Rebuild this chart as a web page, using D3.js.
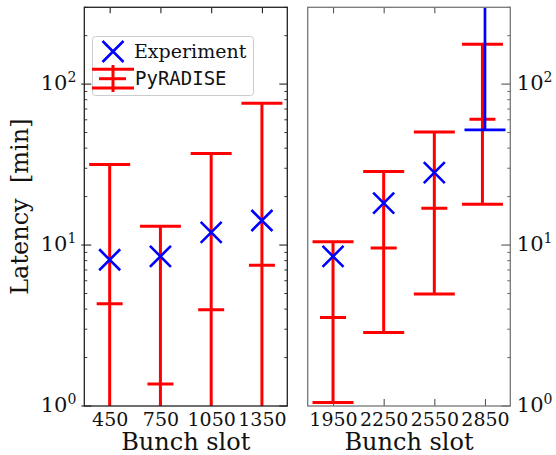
<!DOCTYPE html>
<html>
<head>
<meta charset="utf-8">
<script src="https://cdn.jsdelivr.net/npm/d3@7"></script>
<style>
  html, body { margin: 0; padding: 0; background: #fff; }
  svg { display: block; }
</style>
</head>
<body>
<svg id="chart" width="556" height="455"></svg>
<script>
// ---- data ----
const slotsLeft = [450, 750, 1050, 1350];
const slotsRight = [1950, 2250, 2550, 2850];
const experimentSlots = [450, 750, 1050, 1350, 1950, 2250, 2550];
const experimentValues = [8.1, 8.5, 12.0, 14.2, 8.5, 18.2, 28.2];
// experiment lower limit (error bar going off the top) at slot 2850
const expLimitSlots = [2850];
const expLimitLow = [52];
const expLimitHigh = [1000];
const pyradiseSlots = [450, 750, 1050, 1350, 1950, 2250, 2550, 2835];
const pyradiseLow = [0.5, 0.5, 0.5, 0.5, 1.05, 2.86, 4.97, 17.9];
const pyradiseMid = [4.32, 1.37, 3.96, 7.48, 3.55, 9.6, 16.9, 60.5];
const pyradiseHigh = [31.7, 13.1, 37.0, 76.0, 10.5, 28.6, 50.4, 177];
const yMajorTicks = [1, 10, 100];
const yMinorTicks = [2, 3, 4, 5, 6, 7, 8, 9, 20, 30, 40, 50, 60, 70, 80, 90, 200, 300];
const xLabel = "Bunch slot";
const yLabel = "Latency\u00a0\u00a0[min]";

const svg = d3.select("#chart");
const SERIF = "DejaVu Serif, serif";
const TOP = 7.3, BOTTOM = 406;
const y = d3.scaleLog().domain([1, 300]).range([BOTTOM, TOP]);

const panels = [
  { id: "L", slots: slotsLeft, x: d3.scaleLinear().domain([300, 1500]).range([84.3, 287.3]), spine: "#222", tick: "#222", yLabelsLeft: true },
  { id: "R", slots: slotsRight, x: d3.scaleLinear().domain([1800, 3000]).range([307.7, 510.3]), spine: "#777", tick: "#555", yLabelsLeft: false }
];

const defs = svg.append("defs");

panels.forEach(p => {
  const [x0, x1] = p.x.range();
  const [d0, d1] = p.x.domain();
  const g = svg.append("g");
  defs.append("clipPath").attr("id", "clip" + p.id)
    .append("rect").attr("x", x0).attr("y", TOP).attr("width", x1 - x0).attr("height", BOTTOM - TOP);

  const inRange = v => v >= d0 && v <= d1;

  // bottom axis (ticks inward, labels)
  const bottom = g.append("g").attr("transform", `translate(0,${BOTTOM})`)
    .call(d3.axisBottom(p.x).tickValues(p.slots).tickSize(-7).tickPadding(6).tickFormat(d3.format("d")));
  bottom.select(".domain").remove();
  bottom.selectAll(".tick line").attr("stroke", p.tick).attr("stroke-width", 1.1);
  bottom.selectAll(".tick text").attr("font-family", SERIF).attr("font-size", 19).attr("fill", "#111").attr("dy", "0.72em");

  // top axis ticks
  const top = g.append("g").attr("transform", `translate(0,${TOP})`)
    .call(d3.axisTop(p.x).tickValues(p.slots).tickSize(-6).tickFormat(""));
  top.select(".domain").remove();
  top.selectAll(".tick line").attr("stroke", p.tick).attr("stroke-width", 1.1);

  // y ticks
  const drawYTicks = (xPos, dir, major, minor, out) => {
    const t = g.append("g");
    t.selectAll("line.maj").data(yMajorTicks).join("line")
      .attr("x1", xPos - dir * out).attr("x2", xPos + dir * major)
      .attr("y1", d => y(d)).attr("y2", d => y(d))
      .attr("stroke", p.tick).attr("stroke-width", 1.1);
    t.selectAll("line.min").data(yMinorTicks).join("line")
      .attr("x1", xPos).attr("x2", xPos + dir * minor)
      .attr("y1", d => y(d)).attr("y2", d => y(d))
      .attr("stroke", p.tick).attr("stroke-width", 0.9);
  };
  if (p.yLabelsLeft) {
    drawYTicks(x0, 1, 7, 3, 3);
    drawYTicks(x1, -1, 8, 3, 0);
  } else {
    drawYTicks(x1, -1, 9, 3, 0);
  }

  // y tick labels
  const lab = g.append("g");
  yMajorTicks.forEach(v => {
    const e = Math.round(Math.log10(v));
    const t = lab.append("text")
      .attr("y", y(v)).attr("dy", "0.37em")
      .attr("font-family", SERIF).attr("fill", "#111");
    if (p.yLabelsLeft) {
      t.attr("x", x0 - 8).attr("text-anchor", "end");
    } else {
      t.attr("x", x1 + 6.5).attr("text-anchor", "start");
    }
    t.append("tspan").attr("font-size", 21).text("10");
    t.append("tspan").attr("font-size", 14).attr("dy", "-0.55em").text(String(e));
  });

  // data layer
  const data = g.append("g").attr("clip-path", `url(#clip${p.id})`);
  const pyIdx = pyradiseSlots.map((s, i) => i).filter(i => inRange(pyradiseSlots[i]));
  pyIdx.forEach(i => {
    const cx = p.x(pyradiseSlots[i]);
    const red = "#ff0000";
    data.append("line").attr("x1", cx).attr("x2", cx)
      .attr("y1", y(pyradiseLow[i])).attr("y2", y(pyradiseHigh[i]))
      .attr("stroke", red).attr("stroke-width", 3);
    [pyradiseLow[i], pyradiseHigh[i]].forEach(v => {
      data.append("line").attr("x1", cx - 20.5).attr("x2", cx + 20.5)
        .attr("y1", y(v)).attr("y2", y(v)).attr("stroke", red).attr("stroke-width", 3);
    });
    data.append("line").attr("x1", cx - 13).attr("x2", cx + 13)
      .attr("y1", y(pyradiseMid[i])).attr("y2", y(pyradiseMid[i]))
      .attr("stroke", red).attr("stroke-width", 3);
  });
  expLimitSlots.forEach((s, i) => {
    if (!inRange(s)) return;
    const cx = p.x(s);
    data.append("line").attr("x1", cx).attr("x2", cx)
      .attr("y1", y(expLimitLow[i])).attr("y2", y(expLimitHigh[i]))
      .attr("stroke", "#0000ff").attr("stroke-width", 2.7);
    data.append("line").attr("x1", cx - 20.5).attr("x2", cx + 20.5)
      .attr("y1", y(expLimitLow[i])).attr("y2", y(expLimitLow[i]))
      .attr("stroke", "#0000ff").attr("stroke-width", 2.7);
  });
  experimentSlots.forEach((s, i) => {
    if (!inRange(s)) return;
    const cx = p.x(s), cy = y(experimentValues[i]), r = 10.5;
    data.append("path")
      .attr("d", `M${cx - r},${cy - r}L${cx + r},${cy + r}M${cx - r},${cy + r}L${cx + r},${cy - r}`)
      .attr("stroke", "#0000ff").attr("stroke-width", 2.6).attr("fill", "none");
  });

  // spines
  g.append("rect").attr("x", x0).attr("y", TOP).attr("width", x1 - x0).attr("height", BOTTOM - TOP)
    .attr("fill", "none").attr("stroke", p.spine).attr("stroke-width", 1.3);

  // x label
  g.append("text").attr("x", (x0 + x1) / 2).attr("y", 449.5)
    .attr("text-anchor", "middle").attr("font-family", SERIF).attr("font-size", 24)
    .attr("fill", "#111").text(xLabel);
});

// y label
svg.append("text")
  .attr("transform", `translate(28,${(TOP + BOTTOM) / 2}) rotate(-90)`)
  .attr("text-anchor", "middle").attr("font-family", SERIF).attr("font-size", 24)
  .attr("fill", "#111").text(yLabel);

// legend
const lg = svg.append("g");
lg.append("rect").attr("x", 92.5).attr("y", 36.5).attr("width", 161).attr("height", 59)
  .attr("rx", 3).attr("fill", "rgba(255,255,255,0.85)").attr("stroke", "#cccccc").attr("stroke-width", 1);
const mx = 113, my = 51.5, mr = 10.5;
lg.append("path")
  .attr("d", `M${mx - mr},${my - mr}L${mx + mr},${my + mr}M${mx - mr},${my + mr}L${mx + mr},${my - mr}`)
  .attr("stroke", "#0000ff").attr("stroke-width", 2.6).attr("fill", "none");
lg.append("text").attr("x", 134).attr("y", 57.5).attr("font-family", SERIF).attr("font-size", 19)
  .attr("fill", "#111").text("Experiment");
const ex = 113;
lg.append("line").attr("x1", ex).attr("x2", ex).attr("y1", 65).attr("y2", 92)
  .attr("stroke", "#ff0000").attr("stroke-width", 3);
[69.3, 88].forEach(v => lg.append("line").attr("x1", ex - 21).attr("x2", ex + 21)
  .attr("y1", v).attr("y2", v).attr("stroke", "#ff0000").attr("stroke-width", 3));
lg.append("line").attr("x1", ex - 14).attr("x2", ex + 13).attr("y1", 78.7).attr("y2", 78.7)
  .attr("stroke", "#ff0000").attr("stroke-width", 3);
lg.append("text").attr("x", 135).attr("y", 85).attr("font-family", "DejaVu Sans Mono, monospace")
  .attr("font-size", 19).attr("fill", "#111").text("PyRADISE");
</script>
</body>
</html>
